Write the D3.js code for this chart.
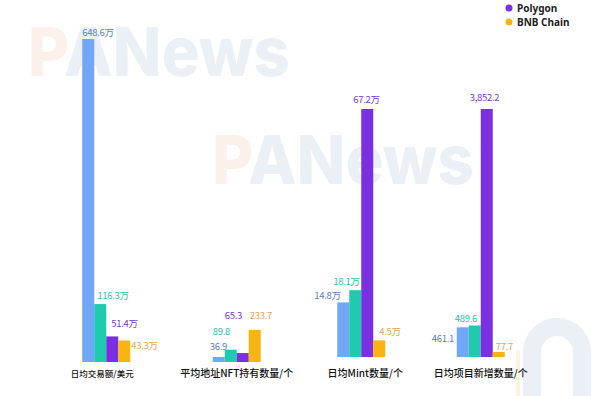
<!DOCTYPE html>
<html>
<head>
<meta charset="utf-8">
<script src="https://cdn.jsdelivr.net/npm/d3@7"></script>
<style>
  body { margin: 0; background: #fff; }
  svg { display: block; font-family: "Noto Sans CJK SC", "Noto Sans", sans-serif; }
</style>
</head>
<body>
<div id="chart"></div>
<script>
// data
const categories = ['日均交易额/美元', '平均地址NFT持有数量/个', '日均Mint数量/个', '日均项目新增数量/个']
const units = ['万', '', '万', '']
const seriesNames = ['Ethereum', 'Solana', 'Polygon', 'BNB Chain']
const ethereum = [648.6, 36.9, 14.8, 461.1]
const solana = [116.3, 89.8, 18.1, 489.6]
const polygon = [51.4, 65.3, 67.2, 3852.2]
const bnbChain = [43.3, 233.7, 4.5, 77.7]
const legendShown = ['Polygon', 'BNB Chain']

// layout (each group has its own scale in the source picture)
const width = 600
const height = 396
const groupBase = [362, 362, 357, 357]
const groupHeight = [323, 32, 248, 248]
const groupShift = [0, 6, 6, 1]
const catSize = [8.5, 10, 10, 10]
const catShift = [-4, 0, 4, 0]
// label offsets: [dx from bar left, dy of text centre from bar top]
const labelNudge = [
    [[0, -6], [3, -8], [5, -13], [13, 5]],
    [[-3, -10], [-12, -18], [-12, -37], [1, -14]],
    [[-23, -7], [-16, -9], [-8, -9], [6, -9]],
    [[-25, 11], [-14, -7], [-11, -11], [3, -5]]
]

const barColor = ['#72a6f6', '#1fcbae', '#7b2fe3', '#f9b412']
const textColor = ['#5a80c4', '#2fbfae', '#7440cf', '#e3a45c']

const values = [ethereum, solana, polygon, bnbChain]

const svg = d3.select('#chart')
    .append('svg')
    .attr('width', width)
    .attr('height', height)

// watermark
const mark = (x, y) => {
    const t = svg.append('text')
        .attr('x', x)
        .attr('y', y)
        .style('font-family', 'Inter, "DejaVu Sans", sans-serif')
        .style('font-weight', 800)
        .style('font-size', '68px')
        .attr('textLength', 262)
        .attr('lengthAdjust', 'spacingAndGlyphs')
    t.append('tspan').attr('fill', '#fcf1ea').text('P')
    t.append('tspan').attr('fill', '#ebf0f7').text('ANews')
}
mark(28, 76)
mark(212, 184)

svg.append('path')
    .attr('d', 'M 532 400 L 532 352 A 25 25 0 0 1 582 352 L 582 400')
    .attr('fill', 'none')
    .attr('stroke', '#ebeff6')
    .attr('stroke-width', 18)
svg.append('path')
    .attr('d', 'M 518 400 L 518 350')
    .attr('stroke', '#fdf4e0')
    .attr('stroke-width', 4)

const x0 = d3.scaleBand()
    .domain(categories)
    .range([44, 542])

const x1 = d3.scaleBand()
    .domain(seriesNames)
    .range([0, 48])

const fmt = d3.format(',.1f')

categories.forEach((cat, gi) => {
    const vals = values.map(v => v[gi])
    const base = groupBase[gi]
    const y = d3.scaleLinear()
        .domain([0, d3.max(vals)])
        .range([base, base - groupHeight[gi]])

    const g = svg.append('g')
        .attr('transform', 'translate(' + (x0(cat) + x0.bandwidth() / 2 - 24 + groupShift[gi]) + ',0)')

    g.selectAll('rect')
        .data(vals)
        .enter()
        .append('rect')
        .attr('x', (d, i) => x1(seriesNames[i]))
        .attr('width', x1.bandwidth())
        .attr('y', d => y(d))
        .attr('height', d => base - y(d))
        .attr('fill', (d, i) => barColor[i])

    g.selectAll('text.val')
        .data(vals)
        .enter()
        .append('text')
        .attr('class', 'val')
        .attr('x', (d, i) => x1(seriesNames[i]) + labelNudge[gi][i][0])
        .attr('y', (d, i) => y(d) + labelNudge[gi][i][1])
        .attr('dy', '0.35em')
        .attr('fill', (d, i) => textColor[i])
        .style('font-size', '9.5px')
        .style('letter-spacing', '-0.3px')
        .text(d => fmt(d) + units[gi])

    g.append('text')
        .attr('x', 24 + catShift[gi])
        .attr('y', base + 15 + (gi > 1 ? 5 : 0))
        .attr('text-anchor', 'middle')
        .attr('fill', '#111')
        .style('font-size', catSize[gi] + 'px')
        .style('font-weight', 500)
        .text(cat)
})

// legend
const legend = svg.append('g')
    .selectAll('g')
    .data(legendShown)
    .enter()
    .append('g')
    .attr('transform', (d, i) => 'translate(509,' + (8 + i * 14) + ')')

legend.append('circle')
    .attr('r', 3.5)
    .attr('fill', d => barColor[seriesNames.indexOf(d)])

legend.append('text')
    .attr('x', 8)
    .attr('dy', '0.35em')
    .attr('fill', '#222')
    .style('font-family', '"Noto Sans", sans-serif')
    .style('font-weight', 700)
    .style('font-size', '10px')
    .text(d => d)
</script>
</body>
</html>
